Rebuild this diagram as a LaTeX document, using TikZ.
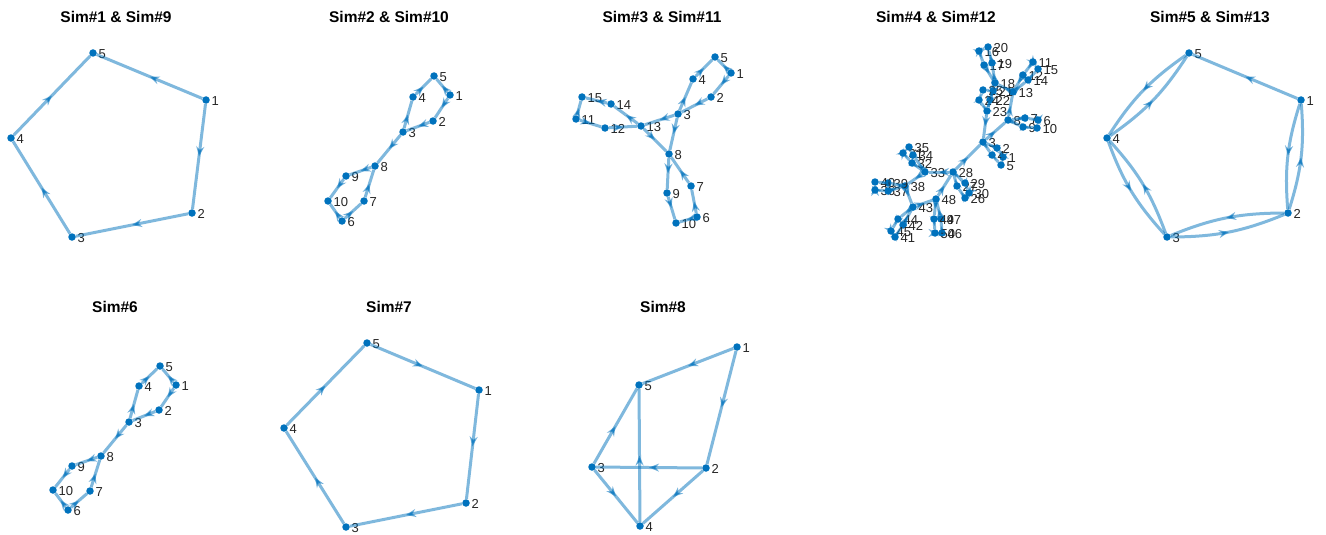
\documentclass[tikz,border=0pt]{standalone}
\usepackage{fontspec}
\setmainfont{Liberation Sans}
\usetikzlibrary{arrows.meta,decorations.markings}
\definecolor{mblue}{HTML}{0072BD}
\definecolor{lblc}{HTML}{262626}
\newcommand\gnode[4]{\node[dot,label={[lbl]0:#4}] (#1) at (#2,#3) {};}
\newcommand\gedge[3][]{\draw[lnk,#1] (#2) to (#3);}
\newcommand\gmod[6]{\gedge{#1#2}{#1#3}\gedge{#1#3}{#1#4}\gedge{#1#4}{#1#5}\gedge{#1#5}{#1#6}\gedge{#1#2}{#1#6}}
\begin{document}
\begin{tikzpicture}[x=1pt,y=-1pt,label distance=1.5pt,
 dot/.style={circle,fill=mblue,inner sep=0pt,minimum size=7.5pt},
 lbl/.style={font=\fontsize{13}{15}\selectfont,text=lblc,inner sep=0pt,yshift=-1pt},
 lnk/.style={draw=mblue,draw opacity=0.5,line width=3pt,postaction={decorate},
   decoration={markings,mark=at position 0.5 with {\arrow[mblue,opacity=0.55]{Stealth[length=10pt,width=8pt]}}}},
 ttl/.style={font=\fontsize{15.5}{18}\selectfont\bfseries,text=black,inner sep=0pt}]
\useasboundingbox[fill=white] (0,0) rectangle (1326,535);
% titles
\node[ttl] (t1) at (116,17) {Sim\#1 \& Sim\#9};
\node[ttl] (t2) at (389,17) {Sim\#2 \& Sim\#10};
\node[ttl] (t3) at (662,17) {Sim\#3 \& Sim\#11};
\node[ttl] (t4) at (936,17) {Sim\#4 \& Sim\#12};
\node[ttl] (t5) at (1210,17) {Sim\#5 \& Sim\#13};
\node[ttl] (t6) at (115,307) {Sim\#6};
\node[ttl] (t7) at (389,307) {Sim\#7};
\node[ttl] (t8) at (663,307) {Sim\#8};
% panel 1
\gnode{a1}{206}{100}{1}\gnode{a2}{192}{213}{2}\gnode{a3}{72}{237}{3}\gnode{a4}{11}{138}{4}\gnode{a5}{93}{53}{5}
\gmod{a}{1}{2}{3}{4}{5}
% panel 2
\gnode{b1}{450}{95}{1}\gnode{b2}{433}{121}{2}\gnode{b3}{403}{132}{3}\gnode{b4}{413}{97}{4}\gnode{b5}{434}{76}{5}
\gnode{b6}{342}{221}{6}\gnode{b7}{364}{201}{7}\gnode{b8}{375}{166}{8}\gnode{b9}{346}{176}{9}\gnode{b10}{328}{201}{10}
\gmod{b}{1}{2}{3}{4}{5}\gmod{b}{6}{7}{8}{9}{10}
\gedge{b3}{b8}
% panel 3
\gnode{c1}{731}{73}{1}\gnode{c2}{711}{97}{2}\gnode{c3}{678}{114}{3}\gnode{c4}{693}{79}{4}\gnode{c5}{715}{57}{5}
\gnode{c6}{697}{217}{6}\gnode{c7}{691}{186}{7}\gnode{c8}{669}{154}{8}\gnode{c9}{667}{193}{9}\gnode{c10}{676}{223}{10}
\gnode{c11}{576}{119}{11}\gnode{c12}{605}{128}{12}\gnode{c13}{641}{126}{13}\gnode{c14}{611}{104}{14}\gnode{c15}{582}{97}{15}
\gmod{c}{1}{2}{3}{4}{5}\gmod{c}{6}{7}{8}{9}{10}\gmod{c}{11}{12}{13}{14}{15}
\gedge{c3}{c8}\gedge{c3}{c13}\gedge{c13}{c8}
% panel 4
\gnode{d1}{1003}{157}{1}\gnode{d2}{997}{148}{2}\gnode{d3}{983}{142}{3}\gnode{d4}{992}{155}{4}\gnode{d5}{1001}{165}{5}
\gnode{d6}{1038}{120}{6}\gnode{d7}{1025}{118}{7}\gnode{d8}{1008}{120}{8}\gnode{d9}{1023}{127}{9}\gnode{d10}{1037}{128}{10}
\gnode{d11}{1033}{62}{11}\gnode{d12}{1023}{75}{12}\gnode{d13}{1013}{92}{13}\gnode{d14}{1028}{80}{14}\gnode{d15}{1038}{69}{15}
\gnode{d16}{979}{51}{16}\gnode{d17}{984}{65}{17}\gnode{d18}{995}{83}{18}\gnode{d19}{992}{63}{19}\gnode{d20}{988}{47}{20}
\gnode{d21}{993}{91}{21}\gnode{d22}{990}{100}{22}\gnode{d23}{987}{111}{23}\gnode{d24}{979}{100}{24}\gnode{d25}{983}{90}{25}
\gnode{d26}{965}{198}{26}\gnode{d27}{957}{186}{27}\gnode{d28}{953}{172}{28}\gnode{d29}{965}{183}{29}\gnode{d30}{969}{193}{30}
\gnode{d31}{903}{153}{31}\gnode{d32}{912}{163}{32}\gnode{d33}{925}{172}{33}\gnode{d34}{913}{155}{34}\gnode{d35}{909}{147}{35}
\gnode{d36}{875}{190}{36}\gnode{d37}{888}{191}{37}\gnode{d38}{905}{186}{38}\gnode{d39}{888}{183}{39}\gnode{d40}{875}{182}{40}
\gnode{d41}{895}{237}{41}\gnode{d42}{903}{225}{42}\gnode{d43}{913}{207}{43}\gnode{d44}{898}{219}{44}\gnode{d45}{891}{231}{45}
\gnode{d46}{942}{233}{46}\gnode{d47}{941}{219}{47}\gnode{d48}{936}{199}{48}\gnode{d49}{934}{219}{49}\gnode{d50}{935}{233}{50}
\gmod{d}{1}{2}{3}{4}{5}\gmod{d}{6}{7}{8}{9}{10}\gmod{d}{11}{12}{13}{14}{15}\gmod{d}{16}{17}{18}{19}{20}\gmod{d}{21}{22}{23}{24}{25}
\gmod{d}{26}{27}{28}{29}{30}\gmod{d}{31}{32}{33}{34}{35}\gmod{d}{36}{37}{38}{39}{40}\gmod{d}{41}{42}{43}{44}{45}\gmod{d}{46}{47}{48}{49}{50}
\gedge{d3}{d8}\gedge{d8}{d13}\gedge{d13}{d18}\gedge{d18}{d23}\gedge{d23}{d3}\gedge{d28}{d3}
\gedge{d28}{d33}\gedge{d33}{d38}\gedge{d38}{d43}\gedge{d43}{d48}\gedge{d48}{d28}
% panel 5
\gnode{e1}{1301}{100}{1}\gnode{e2}{1288}{213}{2}\gnode{e3}{1167}{237}{3}\gnode{e4}{1107}{138}{4}\gnode{e5}{1189}{53}{5}
\gedge{e1}{e5}
\gedge[bend right=11]{e5}{e4}\gedge[bend right=11]{e4}{e5}
\gedge[bend right=11]{e4}{e3}\gedge[bend right=11]{e3}{e4}
\gedge[bend right=11]{e2}{e3}\gedge[bend right=11]{e3}{e2}
\gedge[bend right=11]{e1}{e2}\gedge[bend right=11]{e2}{e1}
% panel 6
\gnode{f1}{176}{385}{1}\gnode{f2}{159}{410}{2}\gnode{f3}{129}{422}{3}\gnode{f4}{139}{386}{4}\gnode{f5}{160}{366}{5}
\gnode{f6}{68}{510}{6}\gnode{f7}{90}{491}{7}\gnode{f8}{101}{456}{8}\gnode{f9}{72}{466}{9}\gnode{f10}{53}{490}{10}
\gmod{f}{1}{2}{3}{4}{5}\gmod{f}{6}{7}{8}{9}{10}
\gedge{f3}{f8}
% panel 7
\gnode{g1}{479}{390}{1}\gnode{g2}{466}{503}{2}\gnode{g3}{346}{527}{3}\gnode{g4}{284}{428}{4}\gnode{g5}{367}{343}{5}
\gedge{g5}{g1}\gedge{g1}{g2}\gedge{g2}{g3}\gedge{g3}{g4}\gedge{g4}{g5}
% panel 8
\gnode{h1}{737}{347}{1}\gnode{h2}{706}{468}{2}\gnode{h3}{592}{467}{3}\gnode{h4}{640}{526}{4}\gnode{h5}{639}{385}{5}
\gedge{h1}{h5}\gedge{h1}{h2}\gedge{h2}{h3}\gedge{h2}{h4}\gedge{h3}{h5}\gedge{h3}{h4}\gedge{h4}{h5}
\end{tikzpicture}
\end{document}
